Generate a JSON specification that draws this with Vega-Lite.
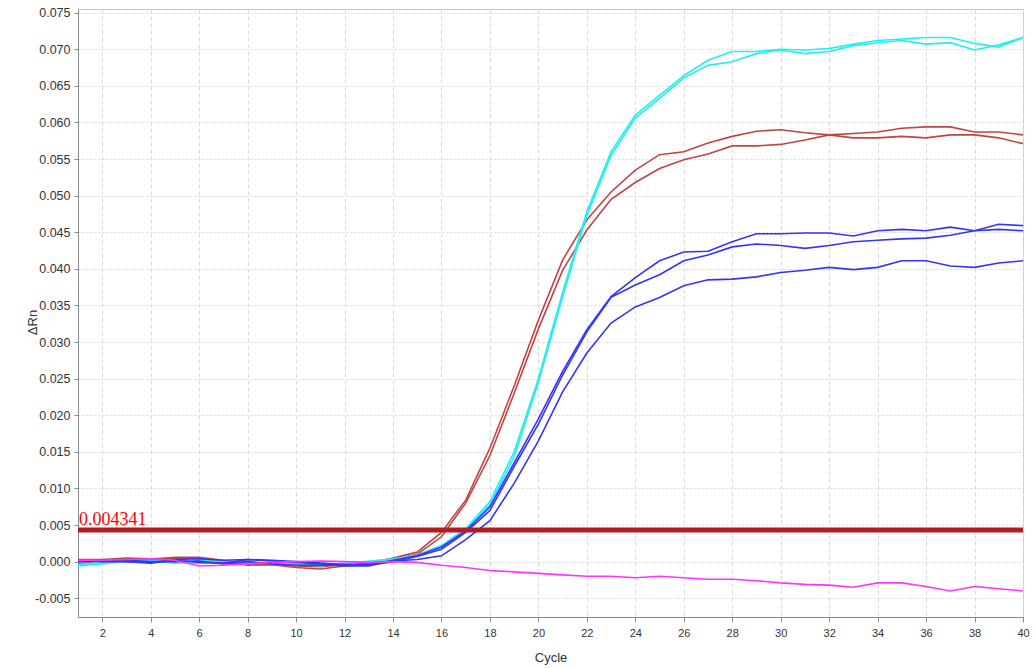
{
  "$schema": "https://vega.github.io/schema/vega-lite/v6.json",
  "width": 945,
  "height": 608,
  "autosize": {"type": "none"},
  "padding": {"left": 78, "top": 9, "right": 13, "bottom": 51},
  "background": "white",
  "config": {
    "view": {"stroke": "#c8c8c8", "strokeWidth": 1},
    "axis": {
      "labelFont": "Liberation Sans",
      "titleFont": "Liberation Sans",
      "labelColor": "#333333",
      "titleColor": "#333333",
      "titleFontWeight": "normal",
      "domainColor": "#8a8a8a",
      "tickColor": "#8a8a8a",
      "gridColor": "#d9d9d9",
      "gridWidth": 1
    }
  },
  "data": {
    "values": [
      {"cycle": 1, "R1": 0.0003, "R2": -0.0003, "C1": -0.0006, "C2": -0.0004, "B1": 0.0002, "B2": 0.0, "B3": 0.0001, "M": 0.0002},
      {"cycle": 2, "R1": 0.0003, "R2": 0.0, "C1": -0.0003, "C2": -0.0001, "B1": 0.0, "B2": 0.0001, "B3": 0.0002, "M": 0.0002},
      {"cycle": 3, "R1": 0.0005, "R2": 0.0004, "C1": 0.0001, "C2": 0.0003, "B1": 0.0, "B2": 0.0002, "B3": 0.0, "M": 0.0003},
      {"cycle": 4, "R1": 0.0004, "R2": 0.0003, "C1": 0.0002, "C2": 0.0, "B1": -0.0001, "B2": 0.0, "B3": -0.0002, "M": 0.0004},
      {"cycle": 5, "R1": 0.0005, "R2": 0.0006, "C1": -0.0002, "C2": -0.0001, "B1": 0.0003, "B2": 0.0, "B3": 0.0002, "M": 0.0002},
      {"cycle": 6, "R1": 0.0004, "R2": 0.0006, "C1": 0.0002, "C2": -0.0002, "B1": 0.0004, "B2": 0.0001, "B3": -0.0001, "M": -0.0006},
      {"cycle": 7, "R1": 0.0, "R2": 0.0002, "C1": 0.0, "C2": -0.0001, "B1": 0.0002, "B2": -0.0003, "B3": -0.0002, "M": -0.0005},
      {"cycle": 8, "R1": -0.0003, "R2": -0.0005, "C1": -0.0002, "C2": 0.0, "B1": 0.0003, "B2": 0.0, "B3": 0.0003, "M": -0.0003},
      {"cycle": 9, "R1": -0.0004, "R2": -0.0004, "C1": -0.0002, "C2": -0.0003, "B1": 0.0001, "B2": -0.0003, "B3": 0.0002, "M": -0.0001},
      {"cycle": 10, "R1": -0.0006, "R2": -0.0008, "C1": -0.0005, "C2": -0.0003, "B1": -0.0001, "B2": -0.0005, "B3": 0.0, "M": 0.0},
      {"cycle": 11, "R1": -0.0007, "R2": -0.001, "C1": -0.0004, "C2": -0.0006, "B1": -0.0003, "B2": -0.0005, "B3": -0.0002, "M": 0.0001},
      {"cycle": 12, "R1": -0.0004, "R2": -0.0006, "C1": -0.0003, "C2": -0.0002, "B1": -0.0006, "B2": -0.0004, "B3": -0.0004, "M": 0.0},
      {"cycle": 13, "R1": -0.0002, "R2": -0.0003, "C1": 0.0001, "C2": 0.0, "B1": -0.0006, "B2": -0.0005, "B3": -0.0004, "M": -0.0001},
      {"cycle": 14, "R1": 0.0005, "R2": 0.0003, "C1": 0.0003, "C2": 0.0004, "B1": 0.0002, "B2": 0.0, "B3": 0.0001, "M": 0.0},
      {"cycle": 15, "R1": 0.0013, "R2": 0.001, "C1": 0.0009, "C2": 0.0008, "B1": 0.0008, "B2": 0.0007, "B3": 0.0003, "M": -0.0001},
      {"cycle": 16, "R1": 0.004, "R2": 0.0034, "C1": 0.0022, "C2": 0.002, "B1": 0.002, "B2": 0.0017, "B3": 0.0008, "M": -0.0005},
      {"cycle": 17, "R1": 0.0084, "R2": 0.008, "C1": 0.0045, "C2": 0.0043, "B1": 0.0042, "B2": 0.004, "B3": 0.003, "M": -0.0008},
      {"cycle": 18, "R1": 0.0155, "R2": 0.0145, "C1": 0.0082, "C2": 0.0078, "B1": 0.0075, "B2": 0.007, "B3": 0.0056, "M": -0.0012},
      {"cycle": 19, "R1": 0.024, "R2": 0.023, "C1": 0.015, "C2": 0.0143, "B1": 0.0135, "B2": 0.013, "B3": 0.0107, "M": -0.0014},
      {"cycle": 20, "R1": 0.033, "R2": 0.0318, "C1": 0.025, "C2": 0.0245, "B1": 0.0195, "B2": 0.0188, "B3": 0.0165, "M": -0.0016},
      {"cycle": 21, "R1": 0.0412, "R2": 0.0398, "C1": 0.0368, "C2": 0.0362, "B1": 0.026, "B2": 0.0255, "B3": 0.0232, "M": -0.0018},
      {"cycle": 22, "R1": 0.0467, "R2": 0.0453, "C1": 0.0478, "C2": 0.0473, "B1": 0.0317, "B2": 0.0314, "B3": 0.0285, "M": -0.002},
      {"cycle": 23, "R1": 0.0505, "R2": 0.0495, "C1": 0.056, "C2": 0.0555, "B1": 0.0362, "B2": 0.0361, "B3": 0.0326, "M": -0.002},
      {"cycle": 24, "R1": 0.0535, "R2": 0.0518, "C1": 0.061, "C2": 0.0606, "B1": 0.0388, "B2": 0.0378, "B3": 0.0348, "M": -0.0022},
      {"cycle": 25, "R1": 0.0556, "R2": 0.0537, "C1": 0.0637, "C2": 0.0633, "B1": 0.0411, "B2": 0.0392, "B3": 0.0361, "M": -0.002},
      {"cycle": 26, "R1": 0.056, "R2": 0.0549, "C1": 0.0664, "C2": 0.0661, "B1": 0.0423, "B2": 0.0411, "B3": 0.0377, "M": -0.0022},
      {"cycle": 27, "R1": 0.0572, "R2": 0.0557, "C1": 0.0685, "C2": 0.0678, "B1": 0.0424, "B2": 0.0419, "B3": 0.0385, "M": -0.0024},
      {"cycle": 28, "R1": 0.0581, "R2": 0.0568, "C1": 0.0697, "C2": 0.0683, "B1": 0.0437, "B2": 0.043, "B3": 0.0386, "M": -0.0024},
      {"cycle": 29, "R1": 0.0588, "R2": 0.0568, "C1": 0.0697, "C2": 0.0694, "B1": 0.0448, "B2": 0.0434, "B3": 0.0389, "M": -0.0026},
      {"cycle": 30, "R1": 0.059, "R2": 0.057, "C1": 0.07, "C2": 0.0699, "B1": 0.0448, "B2": 0.0432, "B3": 0.0395, "M": -0.0029},
      {"cycle": 31, "R1": 0.0586, "R2": 0.0576, "C1": 0.0699, "C2": 0.0694, "B1": 0.0449, "B2": 0.0428, "B3": 0.0398, "M": -0.0031},
      {"cycle": 32, "R1": 0.0583, "R2": 0.0583, "C1": 0.0701, "C2": 0.0697, "B1": 0.0449, "B2": 0.0432, "B3": 0.0402, "M": -0.0032},
      {"cycle": 33, "R1": 0.0579, "R2": 0.0585, "C1": 0.0707, "C2": 0.0705, "B1": 0.0445, "B2": 0.0437, "B3": 0.0399, "M": -0.0035},
      {"cycle": 34, "R1": 0.0579, "R2": 0.0587, "C1": 0.0712, "C2": 0.0709, "B1": 0.0452, "B2": 0.0439, "B3": 0.0402, "M": -0.0029},
      {"cycle": 35, "R1": 0.0581, "R2": 0.0592, "C1": 0.0714, "C2": 0.0712, "B1": 0.0454, "B2": 0.0441, "B3": 0.0411, "M": -0.0029},
      {"cycle": 36, "R1": 0.0579, "R2": 0.0594, "C1": 0.0716, "C2": 0.0707, "B1": 0.0452, "B2": 0.0442, "B3": 0.0411, "M": -0.0034},
      {"cycle": 37, "R1": 0.0583, "R2": 0.0594, "C1": 0.0716, "C2": 0.0709, "B1": 0.0457, "B2": 0.0446, "B3": 0.0404, "M": -0.004},
      {"cycle": 38, "R1": 0.0583, "R2": 0.0587, "C1": 0.0708, "C2": 0.0699, "B1": 0.0452, "B2": 0.0452, "B3": 0.0402, "M": -0.0034},
      {"cycle": 39, "R1": 0.0579, "R2": 0.0587, "C1": 0.0703, "C2": 0.0706, "B1": 0.0454, "B2": 0.0461, "B3": 0.0408, "M": -0.0037},
      {"cycle": 40, "R1": 0.0571, "R2": 0.0583, "C1": 0.0716, "C2": 0.0716, "B1": 0.0452, "B2": 0.0459, "B3": 0.0411, "M": -0.004}
    ]
  },
  "layer": [
    {
      "transform": [{"fold": ["R1", "R2", "C1", "C2", "B1", "B2", "B3", "M"], "as": ["well", "rn"]}],
      "mark": {"type": "line", "strokeWidth": 1.6, "clip": true},
      "encoding": {
        "x": {
          "field": "cycle", "type": "quantitative",
          "scale": {"domain": [1, 40], "nice": false, "zero": false},
          "axis": {
            "title": "Cycle", "titleFontSize": 13, "titleY": 40, "titleBaseline": "middle",
            "values": [2, 4, 6, 8, 10, 12, 14, 16, 18, 20, 22, 24, 26, 28, 30, 32, 34, 36, 38, 40],
            "tickCount": 30,
            "labelFontSize": 11, "tickSize": 5, "labelPadding": 5, "labelFlush": false, "labelOverlap": false,
            "grid": true, "gridDash": [4, 3]
          }
        },
        "y": {
          "field": "rn", "type": "quantitative",
          "scale": {"domain": [-0.00756, 0.0755], "nice": false, "zero": false},
          "axis": {
            "title": "ΔRn", "titleFontSize": 13, "titleAngle": -90, "titleX": -46, "titleY": 313,
            "titleAlign": "center", "titleBaseline": "middle",
            "values": [-0.005, 0, 0.005, 0.01, 0.015, 0.02, 0.025, 0.03, 0.035, 0.04, 0.045, 0.05, 0.055, 0.06, 0.065, 0.07, 0.075],
            "tickCount": 30,
            "labelExpr": "datum.value < 0 ? '-' + format(-datum.value, '.3f') : format(datum.value, '.3f')",
            "labelFontSize": 12.5, "tickSize": 4, "labelPadding": 4, "labelFlush": false, "labelOverlap": false,
            "grid": true, "gridDash": [2, 2]
          }
        },
        "color": {
          "field": "well", "type": "nominal",
          "scale": {
            "domain": ["R1", "R2", "C1", "C2", "B1", "B2", "B3", "M"],
            "range": ["#c04444", "#c04444", "#22eef2", "#22eef2", "#3434f4", "#3434f4", "#3434f4", "#ff33ff"]
          },
          "legend": null
        }
      }
    },
    {
      "data": {"values": [{"threshold": 0.004341, "label": "0.004341"}]},
      "layer": [
        {
          "mark": {"type": "rule", "color": "#b01c20", "strokeWidth": 5},
          "encoding": {"y": {"field": "threshold", "type": "quantitative"}}
        },
        {
          "mark": {"type": "text", "align": "left", "baseline": "bottom", "dx": 1, "dy": -1, "font": "Liberation Serif", "fontSize": 18, "color": "#ff0000"},
          "encoding": {
            "x": {"datum": 1, "type": "quantitative"},
            "y": {"field": "threshold", "type": "quantitative"},
            "text": {"field": "label"}
          }
        }
      ]
    }
  ]
}
